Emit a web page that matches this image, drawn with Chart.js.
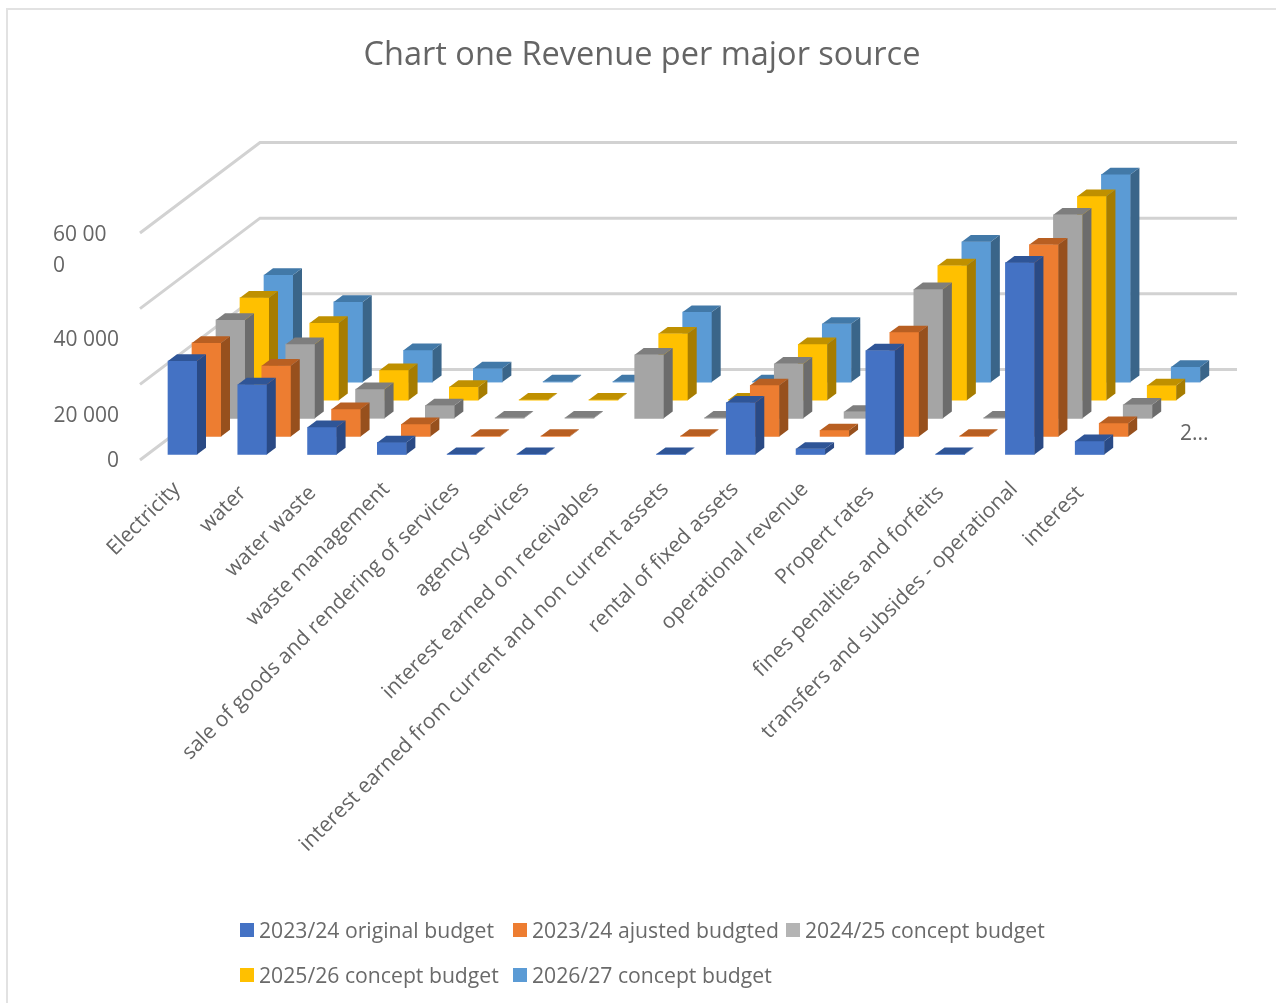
<!DOCTYPE html>
<html>
<head>
<meta charset="utf-8">
<title>Revenue per major source</title>
<script src="https://cdn.jsdelivr.net/npm/chart.js@4"></script>
<style>
  body { margin: 0; background: #fff; font-family: "Open Sans", sans-serif; overflow: hidden; }
  #wrap { position: relative; width: 1276px; height: 1003px; }
  #frame { position: absolute; left: 6px; top: 8px; right: -4px; bottom: -4px; border: 2px solid #e2e2e2; }
  canvas { position: absolute; left: 0; top: 0; }
  #legend { position: absolute; left: 240px; top: 907px; display: grid; grid-template-columns: repeat(3, 273px); grid-auto-rows: 45px; color: #6a6a6a; font-size: 21.2px; }
  #legend div { display: flex; align-items: center; white-space: nowrap; }
  #legend i { width: 14px; height: 14px; margin-right: 5px; flex: none; }
</style>
</head>
<body>
<div id="wrap">
  <div id="frame"></div>
  <canvas id="chart" width="1276" height="1003"></canvas>
  <div id="legend"></div>
</div>
<script>
const categories = ['Electricity', 'water', 'water waste', 'waste management',
  'sale of goods and rendering of services', 'agency services', 'interest earned on receivables',
  'interest earned from current and non current assets', 'rental of fixed assets', 'operational revenue',
  'Propert rates', 'fines penalties and forfeits', 'transfers and subsides - operational', 'interest'];

const seriesNames = ['2023/24 original budget', '2023/24 ajusted budgted', '2024/25 concept budget',
  '2025/26 concept budget', '2026/27 concept budget'];

const original2324 = [24700, 18500, 7200, 3200, 100, 100, null, 100, 13700, 1500, 27500, 100, 50700, 3500];
const adjusted2324 = [24700, 18700, 7200, 3200, 100, 100, null, 100, 13500, 1600, 27500, 100, 50700, 3500];
const concept2425 = [26000, 19600, 7700, 3400, 150, 150, 16800, 150, 14400, 1700, 34100, 150, 53800, 3600];
const concept2526 = [27100, 20400, 7900, 3500, 150, 150, 17600, 150, 14800, 1800, 35600, 150, 53900, 3900];
const concept2627 = [28300, 21200, 8400, 3600, 150, 150, 18500, 150, 15400, 1900, 37100, 150, 54900, 4000];

const yTicks = [0, 20000, 40000, 60000];
const yTickLabels = [['0'], ['20 000'], ['40 000'], ['60 00', '0']];
const seriesAxisLabel = '2...';

const frontColors = ['#4472C4', '#ED7D31', '#A5A5A5', '#FFC000', '#5B9BD5'];
const topColors = ['#2F5597', '#B85F22', '#7E7E7E', '#BF9000', '#4279A8'];
const sideColors = ['#2A4A85', '#97501D', '#6C6C6C', '#A67C00', '#3A6589'];
const legendColors = ['#4472C4', '#ED7D31', '#B4B4B4', '#FFC000', '#5B9BD5'];

// short labels stand a little further from the axis
const looseLabels = ['water', 'water waste', 'Propert rates', 'fines penalties and forfeits', 'interest'];

const TEXT = '#656565';
const FONT = '"Open Sans", sans-serif';

// one step back along the depth axis for each series
const STEP_X = 24, STEP_Y = -18.1;
const START_X = 7.6, START_Y = -5.5;
// extruded size of a bar, and depth of the whole floor
const BAR_DX = 9, BAR_DY = -6.7;
const FLOOR_DX = 120, FLOOR_DY = -90.5;

function poly(ctx, color, pts) {
  ctx.fillStyle = color;
  ctx.beginPath();
  pts.forEach((p, i) => i ? ctx.lineTo(p[0], p[1]) : ctx.moveTo(p[0], p[1]));
  ctx.closePath();
  ctx.fill();
}

const walls = {
  id: 'walls',
  beforeDatasetsDraw(chart) {
    const { ctx, scales: { x, y } } = chart;
    ctx.save();
    ctx.strokeStyle = '#d2d2d2';
    ctx.lineWidth = 3;
    yTicks.forEach(v => {
      const py = y.getPixelForValue(v);
      ctx.beginPath();
      ctx.moveTo(x.left, py);
      ctx.lineTo(x.left + FLOOR_DX, py + FLOOR_DY);
      ctx.lineTo(x.right + FLOOR_DX, py + FLOOR_DY);
      ctx.stroke();
    });
    ctx.restore();
  }
};

const depth = {
  id: 'depth',
  // title is centred on the whole figure, not on the plot
  afterLayout(chart) {
    chart.titleBlock.left += 13.5;
    chart.titleBlock.right += 13.5;
  },
  // push each series back along the floor
  afterDatasetsUpdate(chart) {
    chart.data.datasets.forEach((ds, i) => {
      chart.getDatasetMeta(i).data.forEach(bar => {
        bar.x += START_X + STEP_X * i;
        bar.y += START_Y + STEP_Y * i;
        bar.base += START_Y + STEP_Y * i;
      });
    });
  },
  // side and top faces of the bars
  afterDatasetDraw(chart, args) {
    const i = args.index;
    const ctx = chart.ctx;
    chart.getDatasetMeta(i).data.forEach((bar, n) => {
      if (chart.data.datasets[i].data[n] === null) return;
      const l = bar.x - bar.width / 2, r = bar.x + bar.width / 2;
      poly(ctx, sideColors[i], [[r, bar.y], [r + BAR_DX, bar.y + BAR_DY], [r + BAR_DX, bar.base + BAR_DY], [r, bar.base]]);
      poly(ctx, topColors[i], [[l, bar.y], [l + BAR_DX, bar.y + BAR_DY], [r + BAR_DX, bar.y + BAR_DY], [r, bar.y]]);
    });
  }
};

// value axis labels sit off their gridlines, the top one wraps
const axisText = {
  id: 'axisText',
  afterDraw(chart) {
    const { ctx, scales: { y } } = chart;
    const shifts = [1, 32, 31, 2];
    ctx.save();
    ctx.fillStyle = TEXT;
    ctx.font = '21px ' + FONT;
    ctx.textBaseline = 'middle';
    yTicks.forEach((v, i) => {
      const py = y.getPixelForValue(v) + shifts[i];
      const lines = yTickLabels[i];
      ctx.textAlign = lines.length > 1 ? 'left' : 'right';
      lines.forEach((t, k) => ctx.fillText(t, lines.length > 1 ? 53 : 119, py + k * 31));
    });
    ctx.textAlign = 'left';
    ctx.fillText(seriesAxisLabel, 1180, 434);
    ctx.restore();
  }
};

const seriesData = [original2324, adjusted2324, concept2425, concept2526, concept2627];

const chart = new Chart(document.getElementById('chart'), {
  type: 'bar',
  data: {
    labels: categories,
    datasets: seriesNames.map((name, i) => ({
      label: name,
      data: seriesData[i],
      backgroundColor: frontColors[i],
      grouped: false,
      barThickness: 29,
      clip: false
    }))
  },
  options: {
    responsive: false,
    animation: false,
    layout: { padding: { left: 140, right: 159 } },
    plugins: {
      legend: { display: false },
      tooltip: { enabled: false },
      title: {
        display: true,
        text: 'Chart one Revenue per major source',
        color: TEXT,
        font: { family: FONT, size: 32.5, weight: 'normal' },
        padding: { top: 36, bottom: 158 }
      }
    },
    scales: {
      x: {
        grid: { display: false },
        border: { display: false },
        afterFit(scale) { scale.height = 543; },
        ticks: {
          autoSkip: false,
          minRotation: 45,
          maxRotation: 45,
          color: TEXT,
          padding: 9,
          labelOffset: 2,
          font: { family: FONT, size: 21 },
          callback(value, i) {
            return looseLabels.includes(categories[i]) ? categories[i] + ' ' : categories[i];
          }
        }
      },
      y: {
        display: false,
        min: 0,
        max: 60000
      }
    }
  },
  plugins: [walls, depth, axisText]
});

const legend = document.getElementById('legend');
seriesNames.forEach((name, i) => {
  const item = document.createElement('div');
  const box = document.createElement('i');
  box.style.background = legendColors[i];
  item.append(box, name);
  legend.append(item);
});
</script>
</body>
</html>
